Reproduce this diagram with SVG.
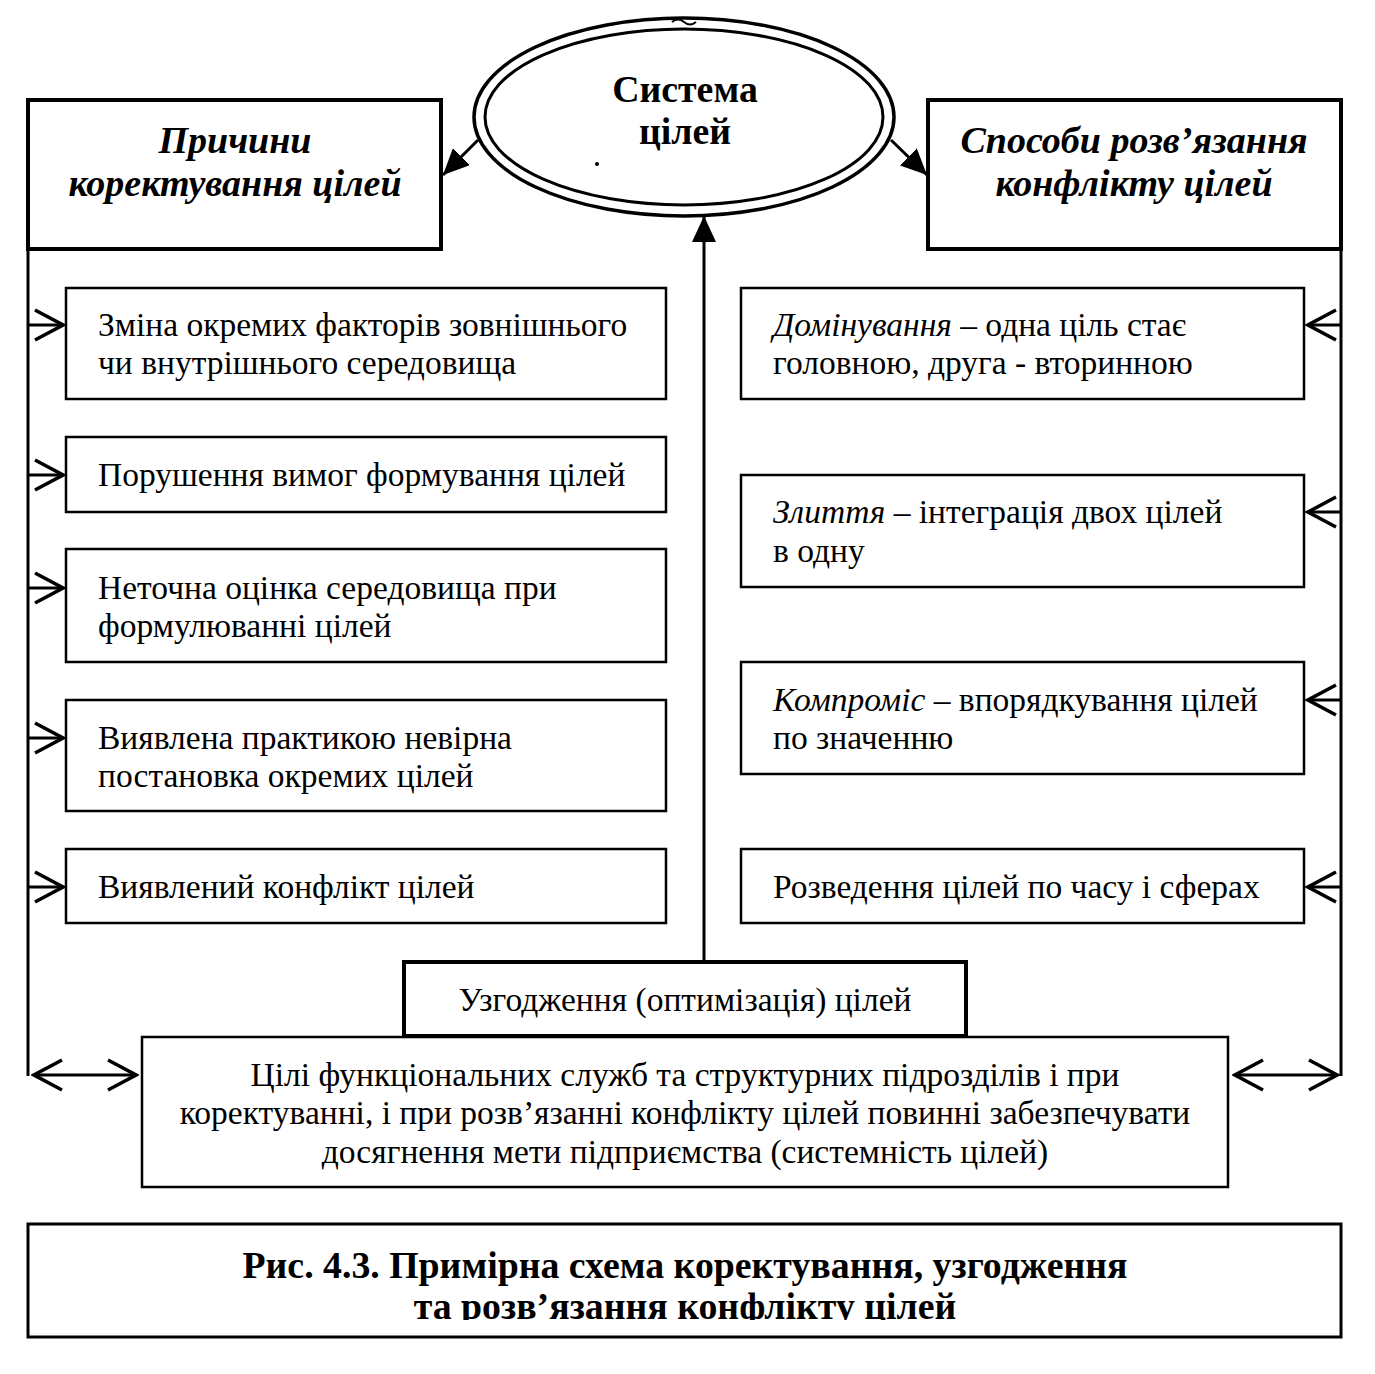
<svg xmlns="http://www.w3.org/2000/svg" width="1375" height="1374" viewBox="0 0 1375 1374">
<defs>
<style>
.box{fill:#fff;stroke:#000;stroke-width:2.5}
.hbox{fill:#fff;stroke:#000;stroke-width:4}
.t{font-family:"Liberation Serif","Times New Roman",serif;font-size:33.5px;fill:#000}
.c{text-anchor:middle}
.h{font-family:"Liberation Serif","Times New Roman",serif;font-size:38px;font-weight:bold;font-style:italic;fill:#000;text-anchor:middle}
.b{font-family:"Liberation Serif","Times New Roman",serif;font-size:37.8px;font-weight:bold;fill:#000;text-anchor:middle}
.i{font-style:italic}
.ln{stroke:#000;stroke-width:3;fill:none}
</style>
<marker id="fa" viewBox="0 0 26 24" refX="26" refY="12" markerWidth="26" markerHeight="24" markerUnits="userSpaceOnUse" orient="auto">
<path d="M0,0 L26,12 L0,24 Z" fill="#000"/>
</marker>
<marker id="oa" viewBox="0 0 34 34" refX="31" refY="17" markerWidth="34" markerHeight="34" markerUnits="userSpaceOnUse" orient="auto-start-reverse">
<path d="M3,2 L31,17 L3,32" fill="none" stroke="#000" stroke-width="3.5"/>
</marker>
<clipPath id="capclip"><rect x="30" y="1226" width="1309" height="94"/></clipPath>
</defs>
<rect width="1375" height="1374" fill="#fff"/>

<g id="connectors">
<line class="ln" x1="28" y1="249" x2="28" y2="1076"/>
<line class="ln" x1="1341" y1="249" x2="1341" y2="1076"/>
<line class="ln" x1="28" y1="325" x2="63" y2="325" marker-end="url(#oa)"/>
<line class="ln" x1="28" y1="475" x2="63" y2="475" marker-end="url(#oa)"/>
<line class="ln" x1="28" y1="588" x2="63" y2="588" marker-end="url(#oa)"/>
<line class="ln" x1="28" y1="738" x2="63" y2="738" marker-end="url(#oa)"/>
<line class="ln" x1="28" y1="887" x2="63" y2="887" marker-end="url(#oa)"/>
<line class="ln" x1="1341" y1="325" x2="1308" y2="325" marker-end="url(#oa)"/>
<line class="ln" x1="1341" y1="512" x2="1308" y2="512" marker-end="url(#oa)"/>
<line class="ln" x1="1341" y1="700" x2="1308" y2="700" marker-end="url(#oa)"/>
<line class="ln" x1="1341" y1="887" x2="1308" y2="887" marker-end="url(#oa)"/>
<line class="ln" x1="34" y1="1075" x2="136" y2="1075" marker-start="url(#oa)" marker-end="url(#oa)"/>
<line class="ln" x1="1235" y1="1075" x2="1337" y2="1075" marker-start="url(#oa)" marker-end="url(#oa)"/>
<line class="ln" x1="704" y1="962" x2="704" y2="216" marker-end="url(#fa)"/>
<line class="ln" x1="478" y1="140" x2="443" y2="175" marker-end="url(#fa)"/>
<line class="ln" x1="891" y1="140" x2="927" y2="175" marker-end="url(#fa)"/>
</g>

<g id="goal-system">
<ellipse cx="684" cy="117" rx="210" ry="99" fill="#fff" stroke="#000" stroke-width="3.5"/>
<ellipse cx="684" cy="117" rx="199" ry="88" fill="none" stroke="#000" stroke-width="3"/>
<path d="M672,22 q6,-5 12,0 q6,5 12,0" fill="none" stroke="#000" stroke-width="2"/>
<circle cx="597" cy="164" r="2" fill="#000"/>
<text class="b" x="685" y="102">Система</text>
<text class="b" x="685" y="144">цілей</text>
</g>

<g id="causes-header">
<rect class="hbox" x="28" y="100" width="413" height="149"/>
<text class="h" x="235" y="153">Причини</text>
<text class="h" x="235" y="196">коректування цілей</text>
</g>

<g id="methods-header">
<rect class="hbox" x="928" y="100" width="413" height="149"/>
<text class="h" x="1134" y="153">Способи розв’язання</text>
<text class="h" x="1134" y="196">конфлікту цілей</text>
</g>

<g id="cause-1">
<rect class="box" x="66" y="288" width="600" height="111"/>
<text class="t" x="98" y="336">Зміна окремих факторів зовнішнього</text>
<text class="t" x="98" y="374">чи внутрішнього середовища</text>
</g>
<g id="cause-2">
<rect class="box" x="66" y="437" width="600" height="75"/>
<text class="t" x="98" y="486">Порушення вимог формування цілей</text>
</g>
<g id="cause-3">
<rect class="box" x="66" y="549" width="600" height="113"/>
<text class="t" x="98" y="599">Неточна оцінка середовища при</text>
<text class="t" x="98" y="637">формулюванні цілей</text>
</g>
<g id="cause-4">
<rect class="box" x="66" y="700" width="600" height="111"/>
<text class="t" x="98" y="749">Виявлена практикою невірна</text>
<text class="t" x="98" y="787">постановка окремих цілей</text>
</g>
<g id="cause-5">
<rect class="box" x="66" y="849" width="600" height="74"/>
<text class="t" x="98" y="898">Виявлений конфлікт цілей</text>
</g>

<g id="method-1">
<rect class="box" x="741" y="288" width="563" height="111"/>
<text class="t" x="773" y="336"><tspan class="i">Домінування</tspan> – одна ціль стає</text>
<text class="t" x="773" y="374">головною, друга - вторинною</text>
</g>
<g id="method-2">
<rect class="box" x="741" y="475" width="563" height="112"/>
<text class="t" x="773" y="523"><tspan class="i">Злиття</tspan> – інтеграція двох цілей</text>
<text class="t" x="773" y="562">в одну</text>
</g>
<g id="method-3">
<rect class="box" x="741" y="662" width="563" height="112"/>
<text class="t" x="773" y="711"><tspan class="i">Компроміс</tspan> – впорядкування цілей</text>
<text class="t" x="773" y="749">по значенню</text>
</g>
<g id="method-4">
<rect class="box" x="741" y="849" width="563" height="74"/>
<text class="t" x="773" y="898">Розведення цілей по часу і сферах</text>
</g>

<g id="coordination">
<rect class="hbox" x="404" y="962" width="562" height="74"/>
<text class="t c" x="685" y="1011">Узгодження (оптимізація) цілей</text>
</g>

<g id="systemness">
<rect class="box" x="142" y="1037" width="1086" height="150"/>
<text class="t c" x="685" y="1086">Цілі функціональних служб та структурних підрозділів і при</text>
<text class="t c" x="685" y="1124">коректуванні, і при розв’язанні конфлікту цілей повинні забезпечувати</text>
<text class="t c" x="685" y="1163">досягнення мети підприємства (системність цілей)</text>
</g>

<g id="caption">
<rect x="28" y="1224" width="1313" height="113" fill="#fff" stroke="#000" stroke-width="3"/>
<g clip-path="url(#capclip)">
<text class="b" x="685" y="1278">Рис. 4.3. Примірна схема коректування, узгодження</text>
<text class="b" x="685" y="1319">та розв’язання конфлікту цілей</text>
</g>
</g>
</svg>
